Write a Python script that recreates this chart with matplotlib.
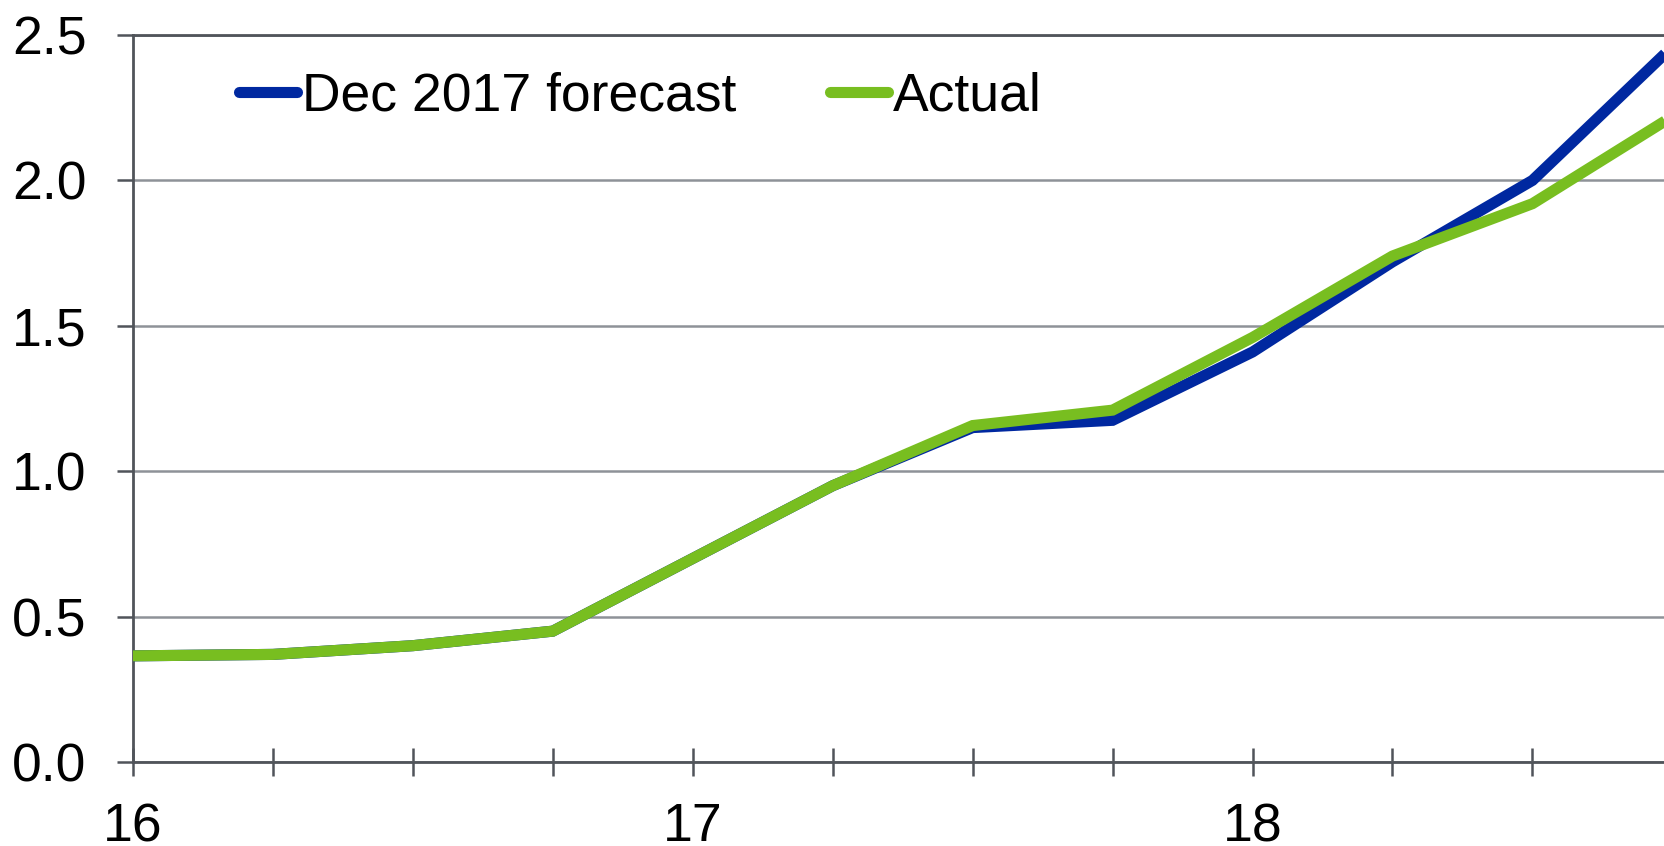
import matplotlib.pyplot as plt

plt.rcParams['font.family'] = ['Liberation Sans', 'DejaVu Sans']

# quarterly points, 2016Q1 onwards
quarters = list(range(12))
forecast_dec2017 = [0.365, 0.37, 0.40, 0.45, 0.70, 0.95, 1.15, 1.175, 1.41, 1.72, 2.00, 2.46]
actual = [0.365, 0.37, 0.40, 0.45, 0.70, 0.95, 1.157, 1.21, 1.46, 1.74, 1.92, 2.22]
tick_labels = ['16', '', '', '', '17', '', '', '', '18', '', '']
y_ticks = [0.0, 0.5, 1.0, 1.5, 2.0, 2.5]

BLUE = '#0028a0'
GREEN = '#78be20'
AXIS = '#50545a'
GRID = '#8e9298'
FS = 38.5
LW = 8

fig = plt.figure(figsize=(16.64, 8.46), dpi=100)
ax = fig.add_axes([0.0799, 0.0993, 0.9201, 0.8593])

ax.plot(quarters, forecast_dec2017, color=BLUE, lw=LW, label='Dec 2017 forecast',
        solid_capstyle='butt', solid_joinstyle='miter', zorder=3)
ax.plot(quarters, actual, color=GREEN, lw=LW, label='Actual',
        solid_capstyle='butt', solid_joinstyle='miter', zorder=4)

ax.set_xlim(0, 10.94)
ax.set_ylim(0, 2.5)
ax.set_xticks(range(len(tick_labels)))
ax.set_xticklabels(tick_labels)
ax.set_yticks(y_ticks)
ax.set_yticklabels([f'{v:.1f}' for v in y_ticks])

ax.yaxis.grid(True, color=GRID, lw=1.8)
ax.set_axisbelow(True)

ax.spines['right'].set_visible(False)
for side in ['left', 'bottom', 'top']:
	ax.spines[side].set_color(AXIS)
	ax.spines[side].set_linewidth(2)

ax.tick_params(axis='x', direction='inout', length=20, width=1.8, color=AXIS,
               labelsize=FS, pad=19)
ax.tick_params(axis='y', direction='out', length=11.5, width=1.8, color=AXIS,
               labelsize=FS, pad=22)

leg = fig.legend(loc='center left', bbox_to_anchor=(0.1436, 0.886), ncol=2,
                 frameon=False, fontsize=FS, handlelength=1.08, handletextpad=0.1,
                 columnspacing=1.75, borderpad=0, borderaxespad=0)
for line in leg.get_lines():
	line.set_linewidth(LW)
	line.set_solid_capstyle('round')

fig.savefig('out.png', dpi=100)
